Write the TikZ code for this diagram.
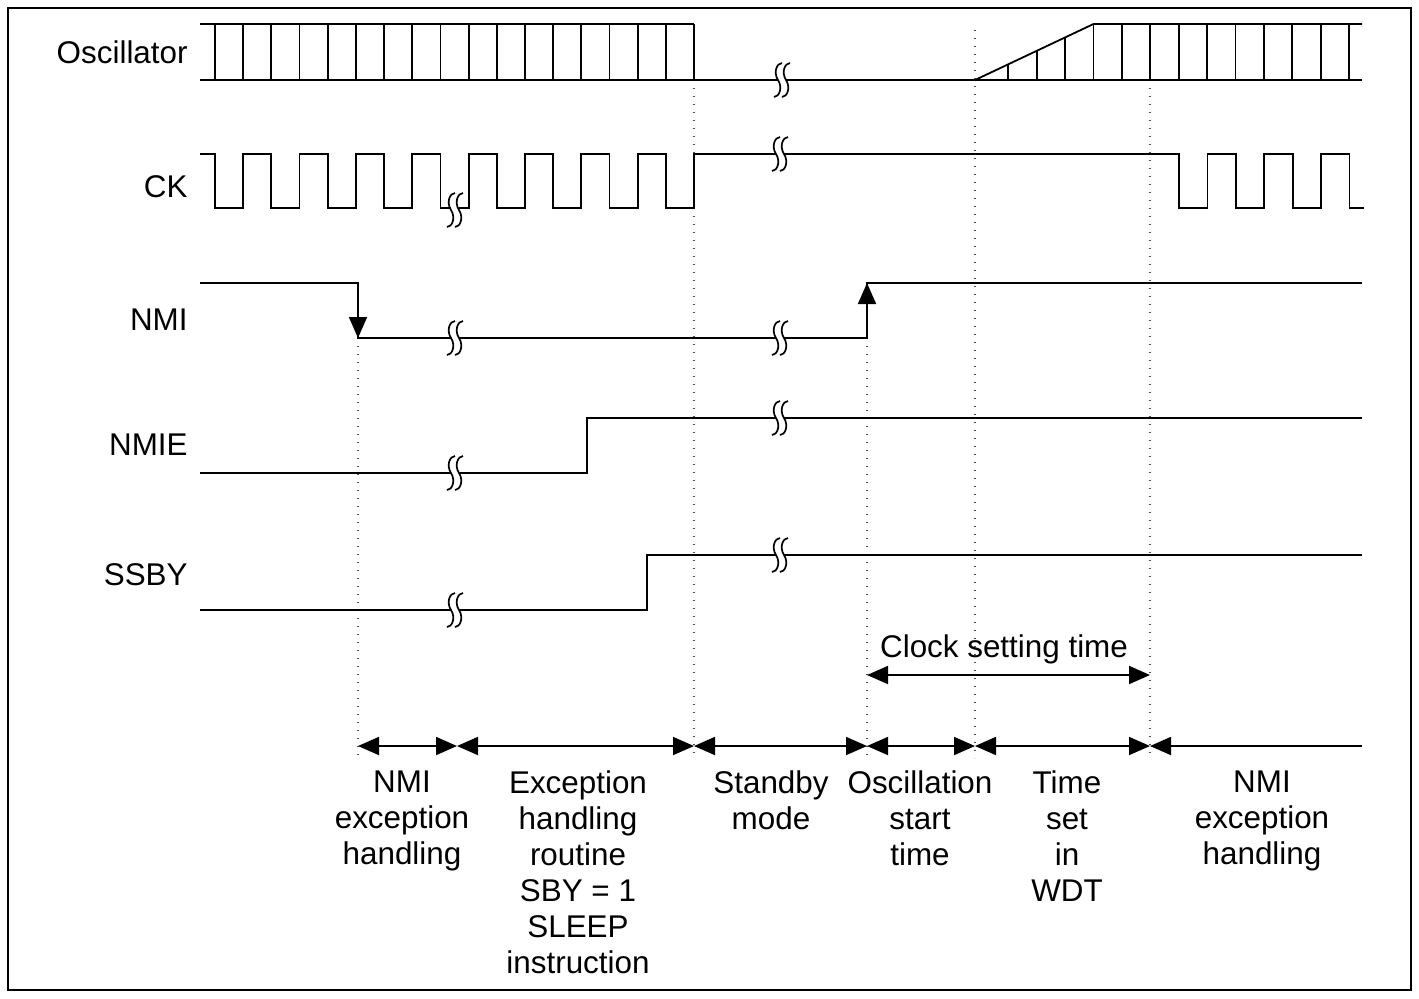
\documentclass[tikz,border=0pt]{standalone}
\usepackage{fontspec}
\setmainfont{Liberation Sans}
\usetikzlibrary{arrows.meta,positioning,calc}
\tikzset{
  sig/.style={line width=0.9pt,line join=miter},
  guide/.style={line width=0.6pt,black!70,dash pattern=on 0.6pt off 3.4pt},
  tipT/.tip={Triangle[length=10.5pt,width=9pt]},
  span/.style={line width=0.9pt,tipT-tipT},
  lspan/.style={line width=0.9pt,tipT-},
  edgeup/.style={line width=0.9pt,-tipT},
  sname/.style={anchor=east,inner sep=0pt},
  phase/.style={anchor=north,align=center,inner sep=0pt},
}
% one squiggle of a break mark
\newcommand{\sq}[2]{\draw[line width=0.85pt] (#1-4,#2+17) .. controls (#1+1,#2+17) and (#1+5,#2+8) .. (#1,#2) .. controls (#1-5,#2-8) and (#1-1,#2-17) .. (#1+4,#2-17);}
\newcommand{\brk}[2]{\fill[white] (#1-4,#2-4) rectangle (#1+4,#2+4); \sq{#1-4}{#2}\sq{#1+4}{#2}}

\begin{document}
\begin{tikzpicture}[x=0.5pt,y=-0.5pt,font=\fontsize{15.7}{18}\selectfont]
\useasboundingbox (0,0) rectangle (1419,998);
\draw[line width=1pt] (8,8) rectangle (1411,990);

% guides
\foreach \x/\y in {358/338,694/80,867/338,975/30,1150/80} \draw[guide] (\x,\y) -- (\x,758);

% signal names
\node[sname] (osc) at (188,52) {Oscillator};
\node[sname] (ck) at (188,187) {CK};
\node[sname] (nmi) at (188,320) {NMI};
\node[sname] (nmie) at (188,445) {NMIE};
\node[sname] (ssby) at (188,575) {SSBY};

% oscillator
\draw[sig] (200,80) -- (1362,80);
\draw[sig] (200,24) -- (694,24);
\draw[sig] (975,80) -- (1093.5,24) -- (1362,24);
\foreach \i in {0,...,17} \draw[sig] ({215+28.18*\i},24) -- ++(0,56);
\foreach \i in {0,...,9} \draw[sig] ({1093.5+28.4*\i},24) -- ++(0,56);
\foreach \i in {1,2,3} \draw[sig] ({1093.5-28.4*\i},80) -- ({1093.5-28.4*\i},{80-56*(118.5-28.4*\i)/118.5});
\brk{782}{80}

% CK
\draw[sig] (200,154) foreach \j in {0,...,8} { -- ({215+56.36*\j},154) -- ({215+56.36*\j},208) -- ({243.18+56.36*\j},208) -- ({243.18+56.36*\j},154) }
  foreach \j in {0,...,2} { -- ({1179+56.8*\j},154) -- ({1179+56.8*\j},208) -- ({1207.4+56.8*\j},208) -- ({1207.4+56.8*\j},154) }
  -- (1349.5,154) -- (1349.5,208) -- (1364,208);
\brk{455}{210}
\brk{780}{154}

% NMI
\draw[sig] (200,283) -- (358,283) -- (358,338) -- (867,338) -- (867,283) -- (1362,283);
\draw[edgeup] (358,300) -- (358,338);
\draw[edgeup] (867,320) -- (867,283);
\brk{455}{338}
\brk{780}{338}

% NMIE
\draw[sig] (200,473) -- (587,473) -- (587,418) -- (1362,418);
\brk{455}{473}
\brk{780}{418}

% SSBY
\draw[sig] (200,610) -- (647,610) -- (647,555) -- (1362,555);
\brk{455}{610}
\brk{780}{555}

% clock setting time
\coordinate (c0) at (867,675);
\coordinate (c1) at (1150,675);
\draw[span] (c0) -- (c1);
\node[anchor=base] (clk) at (1004,657) {Clock setting time};

% phases
\coordinate (b0) at (358,746);
\coordinate (b1) at (457,746);
\coordinate (b2) at (694,746);
\coordinate (b3) at (867,746);
\coordinate (b4) at (975,746);
\coordinate (b5) at (1150,746);
\coordinate (b6) at (1362,746);
\foreach \a/\b in {b0/b1,b1/b2,b2/b3,b3/b4,b4/b5} \draw[span] (\a) -- (\b);
\draw[lspan] (b5) -- (b6);

\node[phase] (p0) at (402,770) {NMI\\exception\\handling};
\node[phase] (p1) at (578,770) {Exception\\handling\\routine\\SBY = 1\\SLEEP\\instruction};
\node[phase] (p2) at (771,770) {Standby\\mode};
\node[phase] (p3) at (920,770) {Oscillation\\start\\time};
\node[phase] (p4) at (1067,770) {Time\\set\\in\\WDT};
\node[phase] (p5) at (1262,770) {NMI\\exception\\handling};
\end{tikzpicture}
\end{document}
